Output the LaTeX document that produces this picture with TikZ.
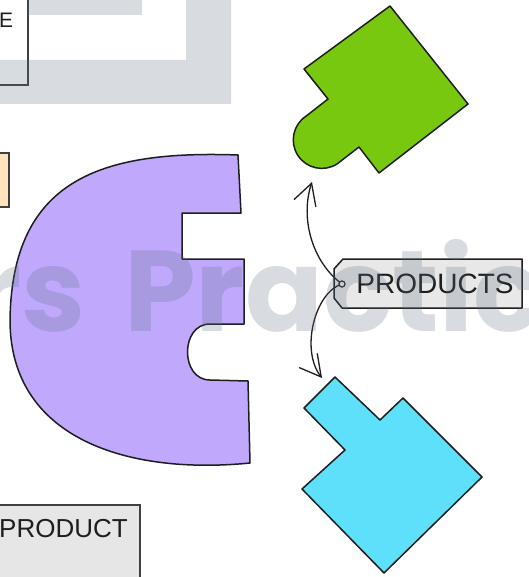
\documentclass[tikz,border=0pt]{standalone}
\usepackage{fontspec}
\setmainfont{Liberation Sans}
\newfontfamily\wmfont{Poppins}
\usetikzlibrary{arrows.meta}
\definecolor{strokec}{HTML}{1E1E1E}
\definecolor{purplef}{HTML}{C0A8FD}
\definecolor{greenf}{HTML}{78C80F}
\definecolor{bluef}{HTML}{5EE0FB}
\definecolor{tagf}{HTML}{E8E8E8}
\definecolor{prodf}{HTML}{E6E6E6}
\definecolor{orangef}{HTML}{FFE3BA}
\definecolor{wmcol}{RGB}{90,110,130}
\tikzset{
  shapeline/.style={draw=strokec, line width=1.5pt, line join=round},
  boxline/.style={draw=strokec!85, line width=1.6pt},
  conn/.style={draw=strokec, line width=1.3pt, -{Straight Barb[length=21pt,width=23pt,line width=1.3pt]}},
  wm/.style={fill=wmcol, fill opacity=0.24, draw=none},
  wmtext/.style={text=wmcol, text opacity=0.24, inner sep=0pt, font=\wmfont\bfseries\fontsize{115}{115}\selectfont},
  labeltext/.style={text=strokec, inner sep=0pt}
}
\begin{document}
\begin{tikzpicture}[x=1pt,y=-1pt]
\useasboundingbox (0,0) rectangle (528,577);
\begin{scope}
\clip (0,0) rectangle (528,577);
% top-left box with E
\draw[boxline, fill=white] (-5,-5) rectangle (28,85);
\node[labeltext, anchor=west, font=\fontsize{21}{21}\selectfont] (etext) at (-1,20) {E};
% orange box
\draw[boxline, fill=orangef] (-5,153) rectangle (9,207);
% bottom PRODUCT box
\draw[boxline, fill=prodf] (-5,505) rectangle (140,590);
\node[labeltext, anchor=west, font=\fontsize{26}{26}\selectfont] (prodtext) at (-1,529) {PRODUCT};
% purple shape
\path[shapeline, fill=purplef] (238,155) -- (241,213) -- (182,213) -- (182,259) -- (244,259) -- (244,324)
  -- (210,324) .. controls (180,324) and (180,380) .. (210,380) -- (248,381) -- (250,463)
  .. controls (130,475) and (10,440) .. (10,320)
  .. controls (12,180) and (100,150) .. (238,155) -- cycle;
% green shape
\path[shapeline, fill=greenf] (390,6) -- (468,104) -- (379,173) -- (359,147) -- (337.3,163.8)
  arc[start angle=57, end angle=237, radius=28.5] -- (328,99) -- (304,69) -- cycle;
% blue shape
\path[shapeline, fill=bluef] (335,377) -- (380,420) -- (403,398) -- (482,477) -- (384,573)
  -- (302,489) -- (345,450) -- (304,408) -- cycle;
% tag
\path[shapeline, fill=tagf] (343,259) -- (522,259) -- (522,308) -- (342,308) -- (334,298) -- (334,269) -- cycle;
\node[labeltext, font=\fontsize{28}{28}\selectfont] (products) at (435,284) {PRODUCTS};
\coordinate (gtip) at (312,182);
\coordinate (btip) at (322,378);
\node[circle, draw=strokec, line width=1pt, inner sep=0pt, minimum size=6pt] (hole) at (342,284) {};
\draw[conn] (hole.center) .. controls (312,262) and (300,218) .. (gtip);
\draw[conn] (hole.center) .. controls (315,292) and (300,350) .. (btip);
\node[circle, draw=strokec, fill=tagf, line width=1pt, inner sep=0pt, minimum size=6pt] at (hole) {};
% watermark
\path[wm, even odd rule] (-2,-2) rectangle (231,104) (-2,-2) rectangle (186,60) (28,-2) rectangle (142,15);
\node[wmtext, anchor=base east] (wm1) at (86,331) {rs};
\node[wmtext, anchor=base west] (wm2) at (124,331) {Practic};
\end{scope}
\end{tikzpicture}
\end{document}
